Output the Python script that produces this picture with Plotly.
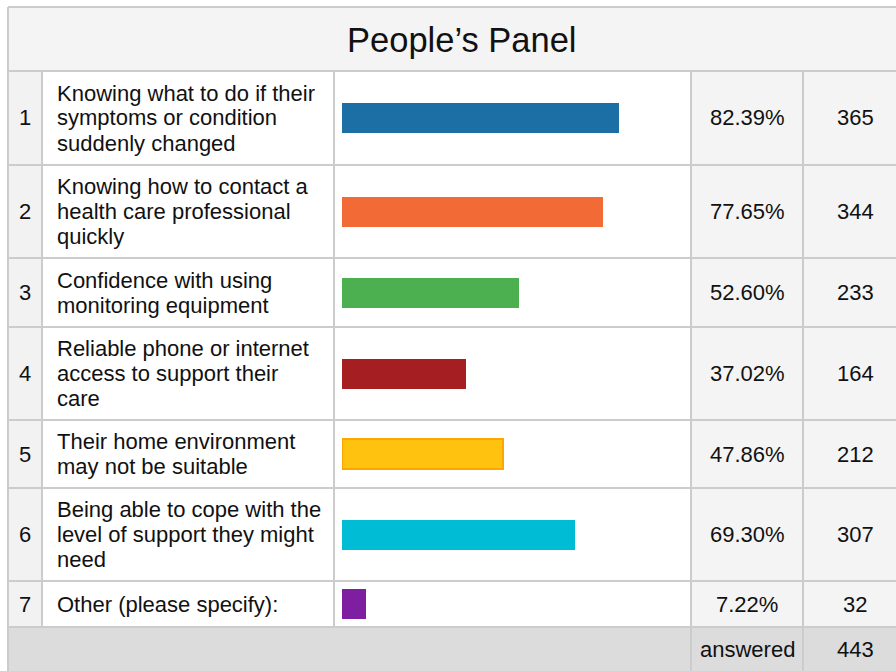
import plotly.graph_objects as go

# ---------------- data ----------------
title = "People\u2019s Panel"
row_numbers = ["1", "2", "3", "4", "5", "6", "7"]
labels = [
    "Knowing what to do if their<br>symptoms or condition<br>suddenly changed",
    "Knowing how to contact a<br>health care professional<br>quickly",
    "Confidence with using<br>monitoring equipment",
    "Reliable phone or internet<br>access to support their<br>care",
    "Their home environment<br>may not be suitable",
    "Being able to cope with the<br>level of support they might<br>need",
    "Other (please specify):",
]
percents = [82.39, 77.65, 52.60, 37.02, 47.86, 69.30, 7.22]
counts = [365, 344, 233, 164, 212, 307, 32]
answered_label = "answered"
answered_count = 443

bar_colors = ["#1c6fa4", "#f26a35", "#4caf50", "#a51e22", "#ffc20e", "#00bcd4", "#7e1fa2"]
bar_line_colors = ["#1c6fa4", "#f26a35", "#4caf50", "#a51e22", "#ffa500", "#00bcd4", "#7e1fa2"]
bar_line_widths = [0, 0, 0, 0, 2, 0, 0]

# ---------------- layout geometry (pixels) ----------------
W, H = 896, 671
LEFT, TOP, RIGHT = 8, 7, 896
TITLE_BOTTOM = 71
row_edges = [71, 165, 258, 327, 420, 488, 581, 627]
BOTTOM = 671
col_edges = [8, 42, 334, 691, 803, 896]
TITLE_CX = 462
COUNT_CX = 855
LABEL_X = 55
BAR_X0, BAR_X1 = 342, 678
BAR_THICK = 30
LINE_H = 25
FONT = "Liberation Sans, Arial, sans-serif"
FS = 22
GRID = "#cccccc"


def px(x):
    return x / W


def py(y):
    return 1 - y / H


shapes = []


def rect(x0, y0, x1, y1, color):
    shapes.append(dict(type="rect", xref="paper", yref="paper",
                       x0=px(x0), x1=px(x1), y0=py(y1), y1=py(y0),
                       fillcolor=color, line=dict(width=0), layer="below"))


def line(x0, y0, x1, y1, color=GRID, w=2):
    shapes.append(dict(type="line", xref="paper", yref="paper",
                       x0=px(x0), x1=px(x1), y0=py(y0), y1=py(y1),
                       line=dict(color=color, width=w), layer="above"))


# backgrounds
rect(LEFT, TOP, RIGHT, TITLE_BOTTOM, "#f4f4f4")
rect(col_edges[0], row_edges[0], col_edges[1], row_edges[-1], "#f2f2f2")
rect(col_edges[3], row_edges[0], RIGHT, row_edges[-1], "#f4f4f4")
rect(LEFT, row_edges[-1], RIGHT, BOTTOM, "#dcdcdc")

# grid lines
line(LEFT, TOP, RIGHT, TOP)
line(LEFT, TOP, LEFT, BOTTOM)
for y in row_edges:
    line(LEFT, y, RIGHT, y)
for x in col_edges[1:3]:
    line(x, row_edges[0], x, row_edges[-1])
line(col_edges[3], row_edges[0], col_edges[3], BOTTOM)
line(col_edges[4], row_edges[0], col_edges[4], BOTTOM)

annotations = []


def text(x, y, s, xanchor="center", size=FS):
    annotations.append(dict(xref="paper", yref="paper", x=px(x), y=py(y), text=s,
                            showarrow=False, xanchor=xanchor, yanchor="middle",
                            font=dict(family=FONT, size=size, color="#111111")))


text(TITLE_CX, (TOP + TITLE_BOTTOM) / 2 + 1, title, size=34.5)

centers = [(row_edges[i] + row_edges[i + 1]) / 2 for i in range(len(percents))]
for i, c in enumerate(centers):
    text((col_edges[0] + col_edges[1]) / 2, c, row_numbers[i])
    lines = labels[i].split("<br>")
    n = len(lines)
    for j, ln in enumerate(lines):
        text(LABEL_X, c + (j - (n - 1) / 2) * LINE_H, ln, xanchor="left")
    text((col_edges[3] + col_edges[4]) / 2, c, f"{percents[i]:.2f}%")
    text(COUNT_CX, c, str(counts[i]))

ac = (row_edges[-1] + BOTTOM) / 2
text((col_edges[3] + col_edges[4]) / 2, ac, answered_label)
text(COUNT_CX, ac, str(answered_count))

fig = go.Figure()
fig.add_trace(go.Bar(
    x=percents, y=centers, orientation="h", width=BAR_THICK,
    marker=dict(color=bar_colors, line=dict(color=bar_line_colors, width=bar_line_widths)),
    hoverinfo="skip", showlegend=False,
))

fig.update_layout(
    width=W, height=H, margin=dict(l=0, r=0, t=0, b=0),
    paper_bgcolor="white", plot_bgcolor="rgba(0,0,0,0)",
    xaxis=dict(domain=[px(BAR_X0), px(BAR_X1)], range=[0, 100], visible=False, fixedrange=True),
    yaxis=dict(domain=[0, 1], range=[H, 0], visible=False, fixedrange=True),
    shapes=shapes, annotations=annotations, bargap=0,
)

fig.write_html("out.html", config={"displayModeBar": False})
